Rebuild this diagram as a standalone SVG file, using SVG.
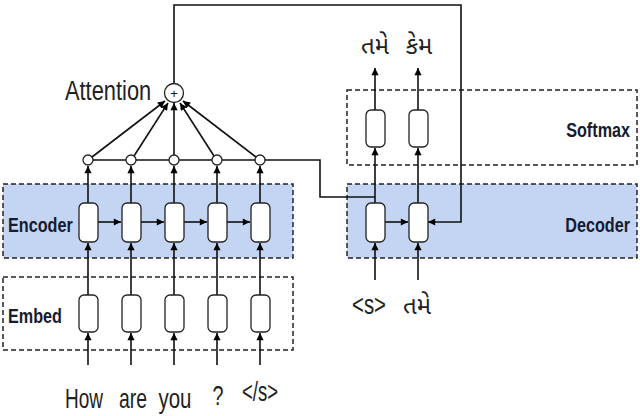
<svg xmlns="http://www.w3.org/2000/svg" width="640" height="416" viewBox="0 0 640 416">
<defs>
<marker id="ah" viewBox="0 0 10 10" refX="10" refY="5" markerWidth="5" markerHeight="4.5" orient="auto" markerUnits="strokeWidth">
<path d="M0,0 L10,5 L0,10 z" fill="#000"/>
</marker>
<style>
.band{fill:#c4d5f3;stroke:#222;stroke-width:1.5;stroke-dasharray:5,3}
.box{fill:none;stroke:#222;stroke-width:1.5;stroke-dasharray:5,3}
.cell{fill:#fff;stroke:#222;stroke-width:1.3}
.ln{fill:none;stroke:#111;stroke-width:1.6}
.ar{fill:none;stroke:#111;stroke-width:1.6;marker-end:url(#ah)}
.lab{font-family:"Liberation Sans",Arial,sans-serif;font-size:21px;font-weight:bold;fill:#161b2e}
.word{font-family:"Liberation Sans",Arial,sans-serif;font-size:28px;fill:#222}
.guj{font-family:"Noto Sans Gujarati","Noto Sans","Liberation Sans",sans-serif;font-size:24px;fill:#222}
</style>
</defs>
<g id="bands">
<rect id="encoder-band" class="band" x="3" y="184" width="290" height="74"/>
<rect id="embed-box" class="box" x="3" y="277" width="290" height="73"/>
<rect id="decoder-band" class="band" x="347" y="184" width="290" height="74"/>
<rect id="softmax-box" class="box" x="347" y="90" width="290" height="75"/>
</g>
<g id="labels">
<text class="lab" transform="translate(8,232) scale(0.77,1)">Encoder</text>
<text class="lab" transform="translate(8,323) scale(0.77,1)">Embed</text>
<text class="lab" transform="translate(630,137) scale(0.77,1)" text-anchor="end">Softmax</text>
<text class="lab" transform="translate(630,232) scale(0.77,1)" text-anchor="end">Decoder</text>
<text class="word" transform="translate(65,100) scale(0.78,1)" font-size="26">Attention</text>
</g>
<g id="connectors">
<line class="ar" x1="88" y1="365" x2="88" y2="333"/>
<line class="ar" x1="131" y1="365" x2="131" y2="333"/>
<line class="ar" x1="174" y1="365" x2="174" y2="333"/>
<line class="ar" x1="217" y1="365" x2="217" y2="333"/>
<line class="ar" x1="260" y1="365" x2="260" y2="333"/>
<line class="ar" x1="88" y1="295" x2="88" y2="243"/>
<line class="ar" x1="131" y1="295" x2="131" y2="243"/>
<line class="ar" x1="174" y1="295" x2="174" y2="243"/>
<line class="ar" x1="217" y1="295" x2="217" y2="243"/>
<line class="ar" x1="260" y1="295" x2="260" y2="243"/>
<line class="ar" x1="98" y1="222" x2="121" y2="222"/>
<line class="ar" x1="141" y1="222" x2="164" y2="222"/>
<line class="ar" x1="184" y1="222" x2="207" y2="222"/>
<line class="ar" x1="227" y1="222" x2="250" y2="222"/>
<line class="ar" x1="88" y1="203" x2="88" y2="166"/>
<line class="ar" x1="131" y1="203" x2="131" y2="166"/>
<line class="ar" x1="174" y1="203" x2="174" y2="166"/>
<line class="ar" x1="217" y1="203" x2="217" y2="166"/>
<line class="ar" x1="260" y1="203" x2="260" y2="166"/>
<line class="ar" x1="92" y1="157" x2="165" y2="101"/>
<line class="ar" x1="134" y1="156" x2="168" y2="103"/>
<line class="ar" x1="174" y1="155" x2="174" y2="103"/>
<line class="ar" x1="214" y1="156" x2="180" y2="103"/>
<line class="ar" x1="256" y1="157" x2="183" y2="101"/>
<polyline class="ln" points="93,160 320,160 320,197 375,197"/>
<polyline class="ar" points="174,84 174,5 461,5 461,222 428,222"/>
<line class="ar" x1="385" y1="222" x2="408" y2="222"/>
<line class="ar" x1="375" y1="203" x2="375" y2="148"/>
<line class="ar" x1="418" y1="203" x2="418" y2="148"/>
<line class="ar" x1="375" y1="110" x2="375" y2="68"/>
<line class="ar" x1="418" y1="110" x2="418" y2="68"/>
<line class="ar" x1="375" y1="280" x2="375" y2="243"/>
<line class="ar" x1="418" y1="280" x2="418" y2="243"/>
</g>
<g id="encoder-cells">
<rect class="cell" x="79" y="203" width="19" height="39" rx="5"/>
<rect class="cell" x="122" y="203" width="19" height="39" rx="5"/>
<rect class="cell" x="165" y="203" width="19" height="39" rx="5"/>
<rect class="cell" x="208" y="203" width="19" height="39" rx="5"/>
<rect class="cell" x="251" y="203" width="19" height="39" rx="5"/>
</g>
<g id="embed-cells">
<rect class="cell" x="79" y="295" width="19" height="37" rx="5"/>
<rect class="cell" x="122" y="295" width="19" height="37" rx="5"/>
<rect class="cell" x="165" y="295" width="19" height="37" rx="5"/>
<rect class="cell" x="208" y="295" width="19" height="37" rx="5"/>
<rect class="cell" x="251" y="295" width="19" height="37" rx="5"/>
</g>
<g id="decoder-cells">
<rect class="cell" x="366" y="203" width="19" height="39" rx="5"/>
<rect class="cell" x="409" y="203" width="19" height="39" rx="5"/>
</g>
<g id="softmax-cells">
<rect class="cell" x="366" y="110" width="19" height="37" rx="5"/>
<rect class="cell" x="409" y="110" width="19" height="37" rx="5"/>
</g>
<g id="attention-circles">
<circle class="cell" cx="88" cy="160" r="5"/>
<circle class="cell" cx="131" cy="160" r="5"/>
<circle class="cell" cx="174" cy="160" r="5"/>
<circle class="cell" cx="217" cy="160" r="5"/>
<circle class="cell" cx="260" cy="160" r="5"/>
</g>
<g id="attention">
<circle class="cell" cx="174" cy="93" r="9.5"/>
<text x="174" y="98" text-anchor="middle" font-family="Liberation Sans,sans-serif" font-size="13" fill="#111">+</text>
</g>
<g id="words">
<text class="word" x="84" y="408" text-anchor="middle" textLength="38" lengthAdjust="spacingAndGlyphs">How</text>
<text class="word" x="133" y="408" text-anchor="middle" textLength="28" lengthAdjust="spacingAndGlyphs">are</text>
<text class="word" x="175" y="408" text-anchor="middle" textLength="33" lengthAdjust="spacingAndGlyphs">you</text>
<text class="word" x="218" y="405" text-anchor="middle" font-size="24" textLength="11" lengthAdjust="spacingAndGlyphs">?</text>
<text class="word" x="260" y="401" text-anchor="middle" font-size="22" textLength="36" lengthAdjust="spacingAndGlyphs">&lt;/s&gt;</text>
<text class="word" x="369" y="314" text-anchor="middle" font-size="20" textLength="34" lengthAdjust="spacingAndGlyphs">&lt;s&gt;</text>
<text class="guj" x="417" y="314" text-anchor="middle">તમે</text>
<text class="guj" x="375" y="54" text-anchor="middle">તમે</text>
<text class="guj" x="419" y="54" text-anchor="middle">કેમ</text>
</g>
</svg>
